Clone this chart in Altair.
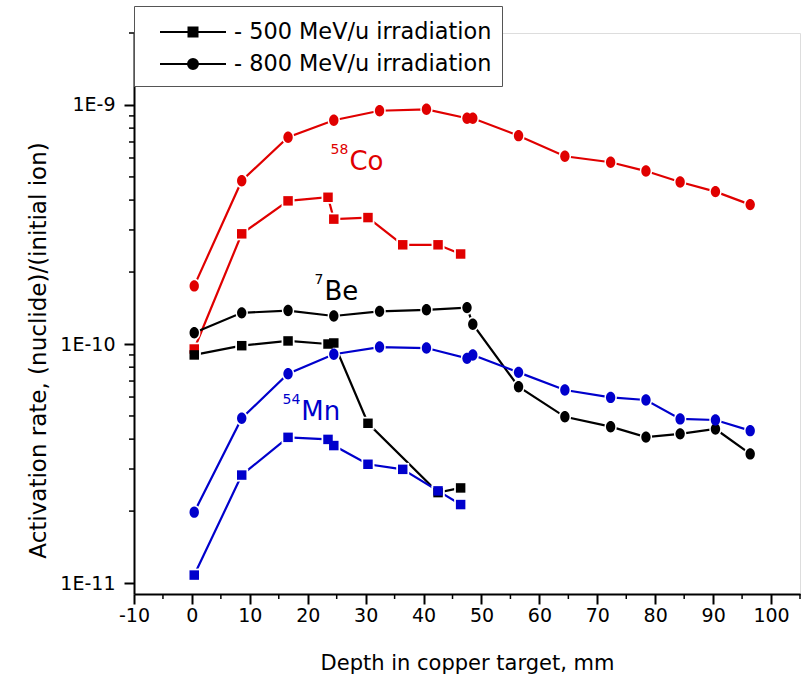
import altair as alt
import pandas as pd

# Foil depths in the copper target, mm
depth_800 = [0.4, 8.6, 16.6, 24.5, 32.4, 40.5, 47.5, 48.5, 56.4, 64.4, 72.3, 78.4, 84.3, 90.4, 96.4]
depth_500 = [0.4, 8.6, 16.6, 23.5, 24.5, 30.4, 36.4, 42.5, 46.4]

# Activation rates, (nuclide)/(initial ion) -- 800 MeV/u
co58_800 = [1.75e-10, 4.82e-10, 7.33e-10, 8.63e-10, 9.46e-10, 9.59e-10, 8.80e-10, 8.80e-10,
            7.44e-10, 6.10e-10, 5.76e-10, 5.29e-10, 4.76e-10, 4.34e-10, 3.83e-10]
be7_800 = [1.115e-10, 1.35e-10, 1.38e-10, 1.31e-10, 1.37e-10, 1.39e-10, 1.42e-10, 1.21e-10,
           6.63e-11, 4.96e-11, 4.51e-11, 4.08e-11, 4.21e-11, 4.41e-11, 3.47e-11]
mn54_800 = [1.98e-11, 4.89e-11, 7.51e-11, 9.06e-11, 9.71e-11, 9.62e-11, 8.71e-11, 9.00e-11,
            7.61e-11, 6.42e-11, 5.98e-11, 5.83e-11, 4.86e-11, 4.81e-11, 4.34e-11]

# Activation rates -- 500 MeV/u (no 7Be value at 36.4 mm)
co58_500 = [9.53e-11, 2.89e-10, 3.97e-10, 4.11e-10, 3.33e-10, 3.38e-10, 2.60e-10, 2.60e-10, 2.38e-10]
be7_500 = [9.00e-11, 9.84e-11, 1.03e-10, 1.00e-10, 1.01e-10, 4.66e-11, None, 2.39e-11, 2.50e-11]
mn54_500 = [1.08e-11, 2.83e-11, 4.07e-11, 3.99e-11, 3.76e-11, 3.14e-11, 2.99e-11, 2.43e-11, 2.13e-11]

nuclides = ["58Co", "7Be", "54Mn"]
nuclide_colors = ["#e00000", "#000000", "#0000cc"]
energies = ["- 500 MeV/u irradiation", "- 800 MeV/u irradiation"]

# Nuclide labels on the plot: mass number (superscript) and element symbol
label_nuclide = ["58Co", "7Be", "54Mn"]
label_mass = ["58", "7", "54"]
label_symbol = ["Co", "Be", "Mn"]
label_depth = [27.2, 22.9, 18.9]
label_rate = [5.34e-10, 1.53e-10, 4.81e-11]

# Axis ticks
x_major = [-10, 0, 10, 20, 30, 40, 50, 60, 70, 80, 90, 100]
x_minor = [-5, 5, 15, 25, 35, 45, 55, 65, 75, 85, 95, 105]
y_major = [1e-11, 1e-10, 1e-9]
y_minor = [2e-11, 3e-11, 4e-11, 5e-11, 6e-11, 7e-11, 8e-11, 9e-11,
           2e-10, 3e-10, 4e-10, 5e-10, 6e-10, 7e-10, 8e-10, 9e-10, 2e-9]

rows = []
for energy, depths, series in [
    (energies[0], depth_500, [co58_500, be7_500, mn54_500]),
    (energies[1], depth_800, [co58_800, be7_800, mn54_800]),
]:
    for nuc, vals in zip(nuclides, series):
        for d, v in zip(depths, vals):
            if v is not None:
                rows.append({"depth": d, "rate": v, "nuclide": nuc,
                             "energy": energy, "series": f"{nuc} {energy}"})
df = pd.DataFrame(rows)

labels_df = pd.DataFrame({"nuclide": label_nuclide, "mass": label_mass, "symbol": label_symbol,
                          "depth": label_depth, "rate": label_rate})

FONT = "DejaVu Sans"

x_scale = alt.Scale(domain=[-10, 105], nice=False, zero=False)
y_scale = alt.Scale(type="log", domain=[9e-12, 2e-9], nice=False)

x_enc = alt.X("depth:Q", scale=x_scale, axis=alt.Axis(
    values=x_major, labelExpr="replace(datum.label, '\u2212', '-')",
    title="Depth in copper target, mm", grid=False,
    tickSize=10, tickWidth=2, tickColor="black", domainColor="black", domainWidth=2,
    labelFont=FONT, labelFontSize=19, labelColor="black", labelPadding=2,
    labelFlush=False, labelOverlap=False, labelBound=False,
    titleFont=FONT, titleFontSize=21, titleFontWeight="normal", titleColor="black",
    titleBaseline="alphabetic", titleY=75, titleX=333, titleAlign="center"))
y_enc = alt.Y("rate:Q", scale=y_scale, axis=alt.Axis(
    values=y_major, labelExpr="'1E' + round(log(datum.value) / LN10)",
    title="Activation rate, (nuclide)/(initial ion)", grid=False,
    tickSize=10, tickWidth=2, tickColor="black", domainColor="black", domainWidth=2,
    labelFont=FONT, labelFontSize=19, labelColor="black", labelPadding=9,
    labelFlush=False, labelOverlap=False, labelBound=False,
    titleFont=FONT, titleFontSize=23, titleFontWeight="normal", titleColor="black",
    titleX=-96, titleY=317, titleAlign="center", titleBaseline="middle"))
color_enc = alt.Color("nuclide:N", scale=alt.Scale(domain=nuclides, range=nuclide_colors), legend=None)

# Marker shapes: square for 500 MeV/u, slightly tall ellipse for 800 MeV/u
ellipse = "M-0.82,0A0.82,1 0 1,0 0.82,0A0.82,1 0 1,0 -0.82,0Z"
marker_shape = alt.Shape("energy:N", scale=alt.Scale(domain=energies, range=["square", ellipse]), legend=None)


# Legend glyphs (stroke only): a line through a solid marker built from nested outlines
def ring(r):
    return f"M{r},0A{r},{r} 0 1,1 {-r},0A{r},{r} 0 1,1 {r},0Z"


def box(h):
    return f"M{-h},{-h}L{h},{-h}L{h},{h}L{-h},{h}Z"


leg_line = "M-2.2,0L2.2,0"
leg_square = leg_line + "".join(box(h) for h in (0.3, 0.167, 0.033))
leg_circle = leg_line + "".join(ring(r) for r in (0.333, 0.2, 0.067))

base = alt.Chart(df)

lines = base.mark_line(strokeWidth=2.2).encode(
    x=x_enc, y=y_enc, color=color_enc, detail="series:N", order="depth:Q")

halos = base.mark_point(filled=True, color="white", opacity=1).encode(
    x=x_enc, y=y_enc, shape=marker_shape,
    size=alt.Size("energy:O", scale=alt.Scale(domain=energies, range=[169, 225]), legend=None))

points = base.mark_point(filled=True, opacity=1).encode(
    x=x_enc, y=y_enc, color=color_enc, shape=marker_shape,
    size=alt.Size("energy:O", scale=alt.Scale(domain=energies, range=[90, 130]), legend=None))

legend_layer = base.mark_point(filled=False, color="black", opacity=0, strokeWidth=2).encode(
    x=x_enc, y=y_enc,
    shape=alt.Shape("energy:N", scale=alt.Scale(domain=energies, range=[leg_square, leg_circle]),
                    legend=alt.Legend(
                        title=None, orient="none", legendX=0, legendY=-27,
                        fillColor="white", strokeColor="#555555", padding=10, rowPadding=4,
                        symbolSize=900, symbolOpacity=1, symbolStrokeWidth=2, symbolOffset=33,
                        labelFont=FONT, labelFontSize=22.4, labelColor="black",
                        labelOffset=25, labelLimit=400)))

symbols_text = alt.Chart(labels_df).mark_text(
    align="left", baseline="alphabetic", font=FONT, fontSize=26).encode(
    x=x_enc, y=y_enc, text="symbol:N", color=color_enc)

mass_text = alt.Chart(labels_df).mark_text(
    align="right", baseline="alphabetic", font=FONT, fontSize=14, dx=-1, dy=-16).encode(
    x=x_enc, y=y_enc, text="mass:N", color=color_enc)

y_minor_ticks = alt.Chart(pd.DataFrame({"rate": y_minor})).mark_rule(color="black", strokeWidth=1.5).encode(
    y=y_enc, x=alt.value(0), x2=alt.value(-5))

x_minor_ticks = alt.Chart(pd.DataFrame({"depth": x_minor})).mark_rule(color="black", strokeWidth=1.5).encode(
    x=x_enc, y=alt.value("height"), y2=alt.value({"expr": "height + 5"}))

chart = alt.layer(
    lines, halos, points, legend_layer, symbols_text, mass_text, y_minor_ticks, x_minor_ticks
).resolve_scale(
    shape="independent", size="independent"
).properties(
    width=666, height=561,
    autosize=alt.AutoSizeParams(type="none"),
    padding={"left": 134, "top": 33, "right": 6, "bottom": 85},
).configure_view(
    stroke="#888888", strokeWidth=1
).configure_legend(
    strokeWidth=1.5
).configure(
    font=FONT, background="white"
)

chart.save("out.html", embed_options={"renderer": "svg", "actions": False})
